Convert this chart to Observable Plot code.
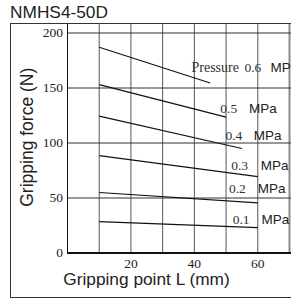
<!DOCTYPE html>
<html>
<head>
<meta charset="utf-8">
<script src="https://cdn.jsdelivr.net/npm/d3@7"></script>
<script src="https://cdn.jsdelivr.net/npm/@observablehq/plot@0.6"></script>
<style>
  html, body { margin: 0; padding: 0; background: #fff; }
  #wrap { position: relative; width: 291px; height: 299px; overflow: hidden; }
  #title { height: 24px; line-height: 24px; padding-left: 10px; font-family: "Liberation Sans", Arial, sans-serif; font-size: 17.3px; color: #222; white-space: nowrap; }
  #box { position: absolute; left: 10px; top: 23px; width: 300px; height: 273px; border-left: 1px solid #333; border-top: 1px solid #333; border-bottom: 1px solid #333; pointer-events: none; }
  svg { display: block; }
  g[aria-label="pnum"] text { letter-spacing: 2.6px; }
</style>
</head>
<body>
<div id="wrap">
  <div id="title">NMHS4-50D</div>
  <div id="chart"></div>
  <div id="box"></div>
</div>
<script>
// Data
const pressures   = [0.6, 0.5, 0.4, 0.3, 0.2, 0.1];       // MPa
const startL      = [10, 10, 10, 10, 10, 10];             // mm
const endL        = [45, 50, 55, 60, 60, 60];             // mm
const startForce  = [187, 153, 124.5, 88.5, 55, 28.5];    // N
const endForce    = [154.5, 123.5, 95, 69.5, 45.5, 23];   // N

const yTicks = [0, 50, 100, 150, 200];
const xTicks = [20, 40, 60];
const xGrid  = [10, 20, 30, 40, 50, 60, 70];

const titleText = "NMHS4-50D";
const yLabel = "Gripping force (N)";
const xLabel = "Gripping point L (mm)";
const prefixText = "Pressure";

// label anchors (data units) for the pressure annotations
const labelL     = [55.8, 48.2, 49.8, 51.6, 50.9, 52.1];
const labelF     = [164.4, 127.7, 102.9, 75.6, 54.4, 26.5];
const unitL      = [64.0, 57.2, 58.7, 60.9, 60.0, 61.2];
const prefixL    = 39.1;

const segs = pressures.map((p, i) => ({p, x1: startL[i], x2: endL[i], y1: startForce[i], y2: endForce[i]}));
const labs = pressures.map((p, i) => ({text: p.toFixed(1), x: labelL[i], y: labelF[i], ux: unitL[i]}));

const W = 291, H = 275;
const chart = Plot.plot({
  width: W, height: H,
  marginLeft: 67, marginRight: 0, marginTop: 0, marginBottom: 46.5,
  style: {fontFamily: "'Liberation Serif', 'Times New Roman', serif", fontSize: "13.5px", color: "#222", background: "transparent"},
  x: {domain: [0, 70], range: [67, 289], axis: null},
  y: {domain: [0, 200], range: [228.5, 8.5], axis: null},
  marks: [
    Plot.ruleX(xGrid.filter(d => d < 70), {stroke: "#555", strokeWidth: 1}),
    Plot.ruleX([70], {stroke: "#8a8a8a", strokeWidth: 2}),
    Plot.ruleY(yTicks.filter(d => d > 0), {stroke: "#333", strokeWidth: 1}),
    Plot.ruleX([0], {stroke: "#111", strokeWidth: 1}),
    Plot.ruleY([0], {stroke: "#111", strokeWidth: 2}),
    Plot.axisY({ticks: yTicks, tickSize: 0, tickPadding: 4.5, label: null, tickFormat: d => String(d)}),
    Plot.axisX({ticks: xTicks, tickSize: 0, tickPadding: 5.5, label: null, tickFormat: d => String(d)}),
    Plot.link(segs, {x1: "x1", y1: "y1", x2: "x2", y2: "y2", stroke: "#111", strokeWidth: 1.2}),
    Plot.text([prefixText], {x: () => prefixL, y: () => labelF[0], text: d => d, textAnchor: "start", lineAnchor: "bottom", fontSize: 14, fill: "#333"}),
    Plot.text(labs, {x: "x", y: "y", text: "text", textAnchor: "start", lineAnchor: "bottom", fontSize: 13.5, fill: "#333", ariaLabel: "pnum"}),
    Plot.text(labs, {x: "ux", y: "y", text: () => "MPa", textAnchor: "start", lineAnchor: "bottom", fontSize: 13.5, fill: "#222", fontFamily: "'Liberation Sans', Arial, sans-serif"}),
    Plot.text([yLabel], {frameAnchor: "left", textAnchor: "middle", lineAnchor: "middle", rotate: -90, dx: -40, dy: -1.5, fontSize: 17.5, fill: "#222", fontFamily: "'Liberation Sans', Arial, sans-serif", text: d => d}),
    Plot.text([xLabel], {frameAnchor: "bottom", textAnchor: "middle", dx: -33, dy: 31.5, lineAnchor: "bottom", fontSize: 17.3, fill: "#222", fontFamily: "'Liberation Sans', Arial, sans-serif", text: d => d})
  ]
});
document.getElementById("chart").appendChild(chart);
document.getElementById("title").textContent = titleText;
</script>
</body>
</html>
